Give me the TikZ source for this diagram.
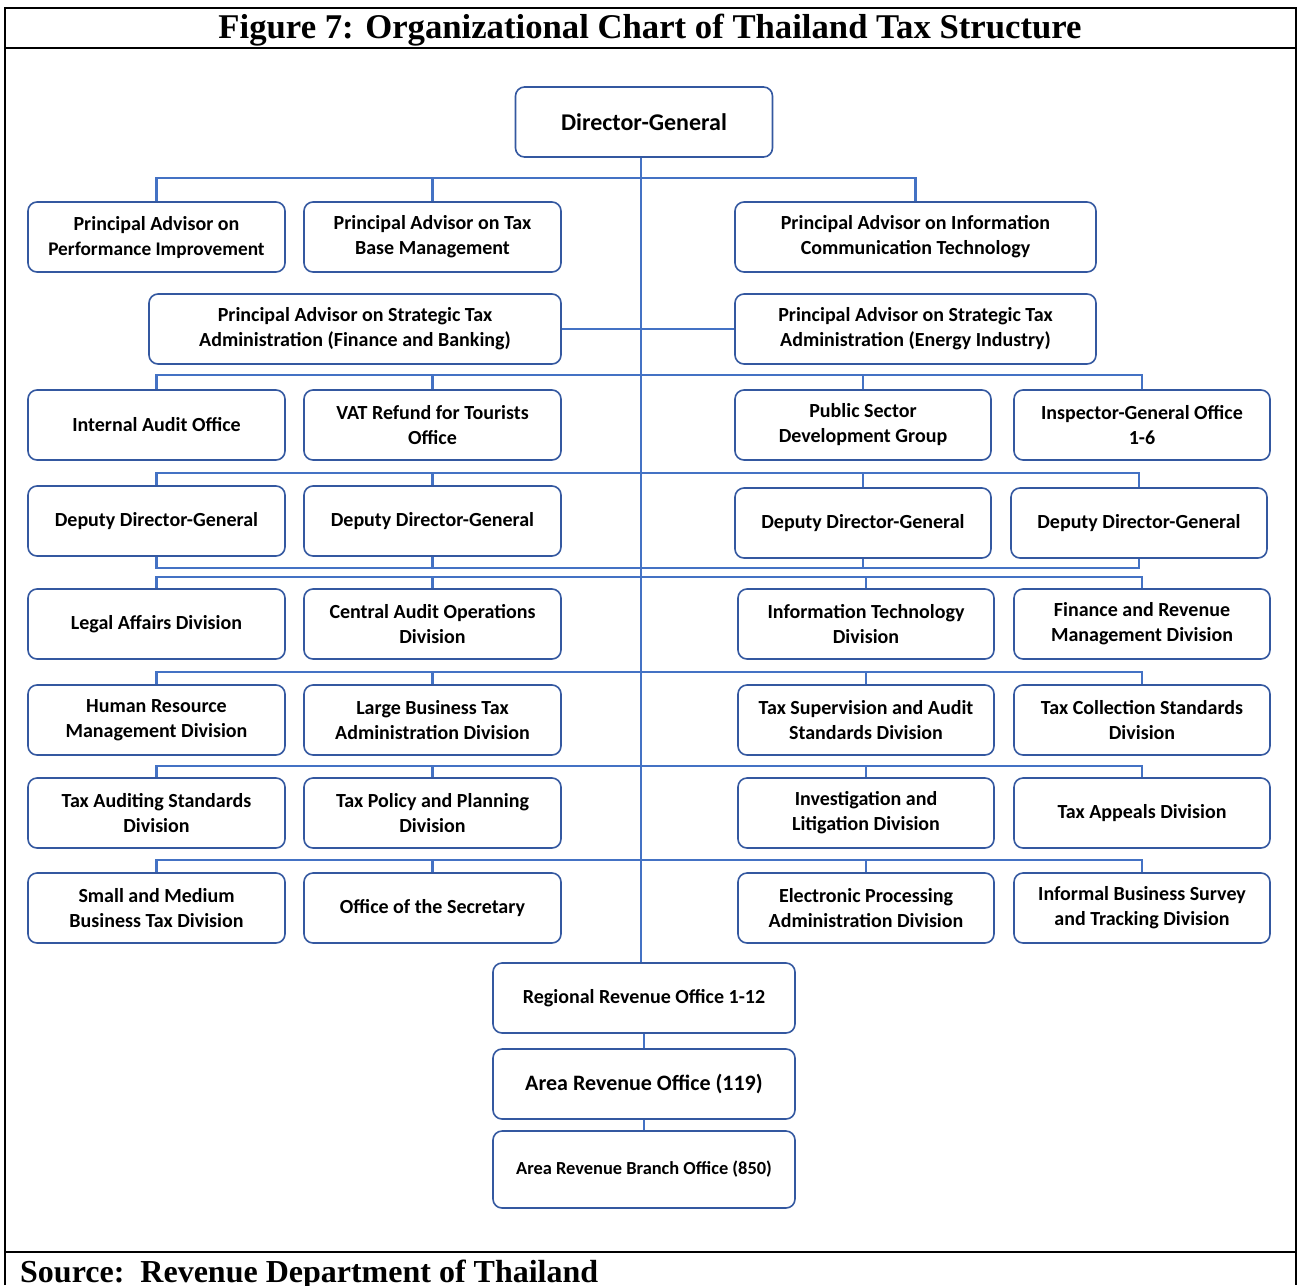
\documentclass[tikz,border=0pt]{standalone}
\usepackage{fontspec}
\setmainfont{Liberation Serif}
\newfontfamily\orgfont{Carlito}
\usepackage{tikz}
\usetikzlibrary{calc}

\definecolor{boxblue}{RGB}{52,88,160}
\definecolor{linkblue}{RGB}{68,114,196}

\tikzset{
  unit/.style={draw=boxblue, line width=1.6pt, rounded corners=9pt, fill=white,
    minimum width=257pt, minimum height=70pt, inner sep=0pt, align=center,
    font=\orgfont\bfseries\fontsize{20}{25}\selectfont},
  link/.style={draw=linkblue, line width=2.6pt},
  frame/.style={line width=1.6pt},
}

\begin{document}
\begin{tikzpicture}[x=1pt, y=-1pt]
      \useasboundingbox (0,0) rectangle (1298,1285);

      % table frame
      \draw[frame] (5,1285) -- (5,8) -- (1296,8) -- (1296,1285);
      \draw[frame] (5,48) -- (1296,48);
      \draw[frame] (5,1252) -- (1296,1252);
      \node (title) at (650,30) {\bfseries\fontsize{34.7}{38}\selectfont Figure 7: Organizational Chart of Thailand Tax Structure};
      \node[anchor=base west, inner sep=0pt] (source) at (20,1282) {\bfseries\fontsize{32}{36}\selectfont Source:\ \ Revenue Department of Thailand};

      % units
      \node[unit, font=\orgfont\bfseries\fontsize{24}{25}\selectfont] (dg) at (644,122) {Director-General};

      \node[unit] (paperf) at (156.5,237) {Principal Advisor on\\{\fontsize{19.3}{25}\selectfont Performance Improvement}};
      \node[unit] (patax) at (432.5,237) {Principal Advisor on Tax\\Base Management};
      \node[unit, minimum width=361pt] (paict) at (915.5,237) {Principal Advisor on Information\\Communication Technology};

      \node[unit, minimum width=412pt] (pafin) at (355,329) {Principal Advisor on Strategic Tax\\Administration (Finance and Banking)};
      \node[unit, minimum width=361pt] (paenergy) at (915.5,329) {Principal Advisor on Strategic Tax\\Administration (Energy Industry)};

      \node[unit] (audit) at (156.5,425) {Internal Audit Office};
      \node[unit] (vat) at (432.5,425) {VAT Refund for Tourists\\Office};
      \node[unit, minimum width=256pt] (public) at (863,425) {Public Sector\\Development Group};
      \node[unit, minimum width=256pt] (inspector) at (1142,425) {Inspector-General Office\\1-6};

      \node[unit] (ddga) at (156.5,521) {Deputy Director-General};
      \node[unit] (ddgb) at (432.5,521) {Deputy Director-General};
      \node[unit, minimum width=256pt] (ddgc) at (863,523) {Deputy Director-General};
      \node[unit, minimum width=256pt] (ddgd) at (1139,523) {Deputy Director-General};

      \node[unit] (legal) at (156.5,624) {Legal Affairs Division};
      \node[unit] (central) at (432.5,624) {Central Audit Operations\\Division};
      \node[unit, minimum width=256pt] (infotech) at (866,624) {Information Technology\\Division};
      \node[unit, minimum width=256pt] (finance) at (1142,624) {Finance and Revenue\\Management Division};

      \node[unit] (human) at (156.5,720) {Human Resource\\Management Division};
      \node[unit] (large) at (432.5,720) {Large Business Tax\\Administration Division};
      \node[unit, minimum width=256pt] (supervision) at (866,720) {Tax Supervision and Audit\\Standards Division};
      \node[unit, minimum width=256pt] (collection) at (1142,720) {Tax Collection Standards\\Division};

      \node[unit] (auditing) at (156.5,813) {Tax Auditing Standards\\Division};
      \node[unit] (policy) at (432.5,813) {Tax Policy and Planning\\Division};
      \node[unit, minimum width=256pt] (litigation) at (866,813) {Investigation and\\Litigation Division};
      \node[unit, minimum width=256pt] (appeals) at (1142,813) {Tax Appeals Division};

      \node[unit] (sme) at (156.5,908) {Small and Medium\\Business Tax Division};
      \node[unit] (secretary) at (432.5,908) {Office of the Secretary};
      \node[unit, minimum width=256pt] (electronic) at (866,908) {Electronic Processing\\Administration Division};
      \node[unit, minimum width=256pt] (informal) at (1142,908) {Informal Business Survey\\and Tracking Division};

      \node[unit, minimum width=302pt] (regional) at (644,998) {Regional Revenue Office 1-12};
      \node[unit, minimum width=302pt, font=\orgfont\bfseries\fontsize{22}{25}\selectfont] (area) at (644,1084) {Area Revenue Office (119)};
      \node[unit, minimum width=302pt, minimum height=77pt, font=\orgfont\bfseries\fontsize{18.4}{25}\selectfont] (branch) at (644,1169.5) {Area Revenue Branch Office (850)};

      % bus levels on the trunk
      \coordinate (busa) at (641,178);
      \coordinate (busb) at (641,375);
      \coordinate (busc) at (641,473);
      \coordinate (busd) at (641,568);
      \coordinate (buse) at (641,577);
      \coordinate (busf) at (641,672);
      \coordinate (busg) at (641,766);
      \coordinate (bush) at (641,860);

      % trunk
      \draw[link] (dg.south -| busa) -- (regional.north -| busa);
      \draw[link] (regional.south) -- (area.north);
      \draw[link] (area.south) -- (branch.north);

      % advisors
      \draw[link] (paperf.north) |- (busa) -| (paict.north);
      \draw[link] (patax.north) -- (patax.north |- busa);
      \draw[link] (pafin.east) -- (paenergy.west);

      % offices
      \draw[link] (audit.north) |- (busb) -| (inspector.north);
      \draw[link] (vat.north) -- (vat.north |- busb);
      \draw[link] (public.north) -- (public.north |- busb);

      % deputies
      \draw[link] (ddga.north) |- (busc) -| (ddgd.north);
      \draw[link] (ddgb.north) -- (ddgb.north |- busc);
      \draw[link] (ddgc.north) -- (ddgc.north |- busc);
      \draw[link] (ddga.south) |- (busd) -| (ddgd.south);
      \draw[link] (ddgb.south) -- (ddgb.south |- busd);
      \draw[link] (ddgc.south) -- (ddgc.south |- busd);

      % divisions
      \draw[link] (legal.north) |- (buse) -| (finance.north);
      \draw[link] (central.north) -- (central.north |- buse);
      \draw[link] (infotech.north) -- (infotech.north |- buse);

      \draw[link] (human.north) |- (busf) -| (collection.north);
      \draw[link] (large.north) -- (large.north |- busf);
      \draw[link] (supervision.north) -- (supervision.north |- busf);

      \draw[link] (auditing.north) |- (busg) -| (appeals.north);
      \draw[link] (policy.north) -- (policy.north |- busg);
      \draw[link] (litigation.north) -- (litigation.north |- busg);

      \draw[link] (sme.north) |- (bush) -| (informal.north);
      \draw[link] (secretary.north) -- (secretary.north |- bush);
      \draw[link] (electronic.north) -- (electronic.north |- bush);
\end{tikzpicture}
\end{document}
